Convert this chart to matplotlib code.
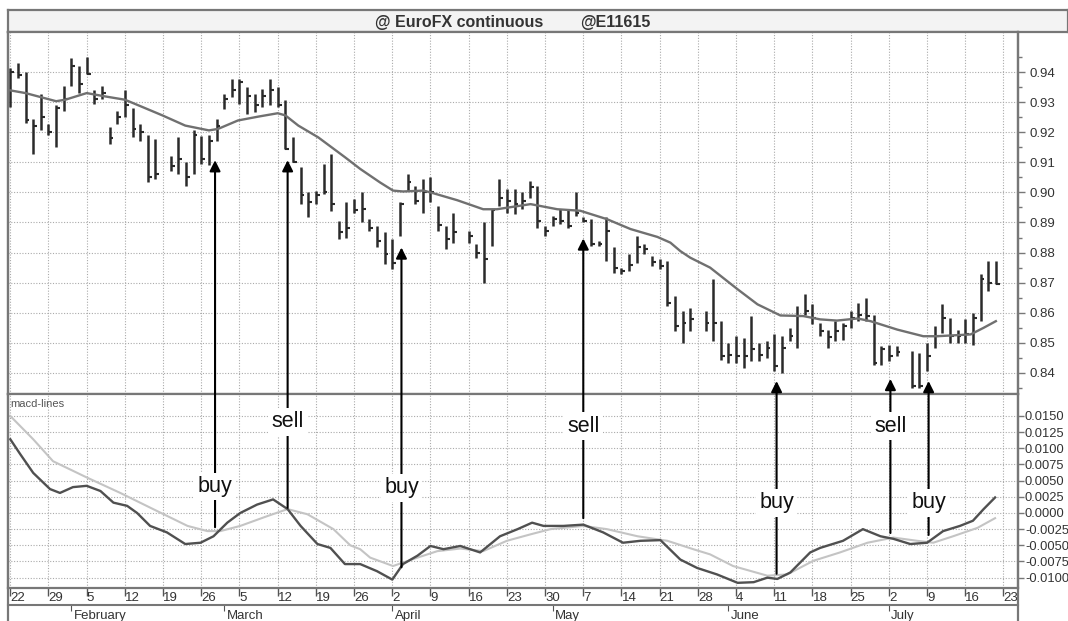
import numpy as np
import pandas as pd
import matplotlib
matplotlib.use("Agg")
import matplotlib.pyplot as plt
from matplotlib.lines import Line2D

plt.rcParams['font.family'] = ['Liberation Sans', 'DejaVu Sans']

# trading days (index = position in the business-day calendar, holidays left empty)
days = pd.bdate_range('2001-01-22', '2001-07-23')
holidays = pd.to_datetime(['2001-02-19', '2001-04-13', '2001-05-28', '2001-07-04'])
trade_days = [d for d in days[:-1] if d not in holidays]
bar_x = [days.get_loc(d) for d in trade_days]

# EuroFX daily bars: high / low / close
high = [0.9413, 0.9430, 0.9400, 0.9245, 0.9328, 0.9228, 0.9290, 0.9355, 0.9445, 0.9420,
        0.9450, 0.9339, 0.9355, 0.9217, 0.9270, 0.9339, 0.9280, 0.9228, 0.9190, 0.9178,
        0.9122, 0.9183, 0.9100, 0.9206, 0.9189, 0.9190, 0.9245, 0.9328, 0.9378,
        0.9378, 0.9350, 0.9328, 0.9345, 0.9378, 0.9350, 0.9306, 0.9183, 0.9083, 0.9000,
        0.9005, 0.9094, 0.9128, 0.8905, 0.8967, 0.8978, 0.9000, 0.8911, 0.8889, 0.8867,
        0.8844, 0.8967, 0.9061, 0.9022, 0.9044, 0.9050, 0.8956, 0.8889, 0.8933,
        0.8872, 0.8828, 0.8900, 0.8944, 0.9044, 0.9011, 0.9011, 0.9000, 0.9039, 0.9022,
        0.8889, 0.8922, 0.8944, 0.8944, 0.9000, 0.8917, 0.8911, 0.8839, 0.8917, 0.8817,
        0.8750, 0.8794, 0.8856, 0.8828, 0.8789, 0.8778, 0.8772, 0.8656, 0.8606, 0.8617,
        0.8606, 0.8711, 0.8572, 0.8500, 0.8522, 0.8517, 0.8589, 0.8500, 0.8506,
        0.8528, 0.8522, 0.8550, 0.8622, 0.8661, 0.8628, 0.8567, 0.8544, 0.8572, 0.8567,
        0.8606, 0.8633, 0.8650, 0.8594, 0.8489, 0.8494, 0.8489, 0.8472, 0.8467,
        0.8500, 0.8556, 0.8628, 0.8583, 0.8544, 0.8578, 0.8600, 0.8728, 0.8772, 0.8772]
low = [0.9283, 0.9380, 0.9230, 0.9128, 0.9206, 0.9190, 0.9150, 0.9270, 0.9355, 0.9330,
       0.9395, 0.9295, 0.9310, 0.9160, 0.9228, 0.9250, 0.9183, 0.9170, 0.9033, 0.9044,
       0.9072, 0.9060, 0.9022, 0.9060, 0.9094, 0.9090, 0.9170, 0.9278, 0.9317,
       0.9294, 0.9260, 0.9267, 0.9283, 0.9290, 0.9283, 0.9144, 0.9100, 0.8961, 0.8917,
       0.8960, 0.8994, 0.8939, 0.8844, 0.8850, 0.8933, 0.8900, 0.8872, 0.8817, 0.8761,
       0.8744, 0.8856, 0.9006, 0.8961, 0.8933, 0.8967, 0.8872, 0.8811, 0.8833,
       0.8833, 0.8783, 0.8700, 0.8822, 0.8956, 0.8933, 0.8928, 0.8944, 0.8983, 0.8883,
       0.8856, 0.8889, 0.8894, 0.8883, 0.8922, 0.8900, 0.8822, 0.8822, 0.8772, 0.8733,
       0.8728, 0.8739, 0.8767, 0.8794, 0.8756, 0.8744, 0.8622, 0.8539, 0.8500, 0.8539,
       0.8539, 0.8506, 0.8444, 0.8433, 0.8433, 0.8417, 0.8439, 0.8439, 0.8450,
       0.8406, 0.8400, 0.8506, 0.8483, 0.8594, 0.8561, 0.8522, 0.8483, 0.8506, 0.8511,
       0.8550, 0.8572, 0.8572, 0.8428, 0.8428, 0.8439, 0.8456, 0.8350, 0.8350,
       0.8406, 0.8483, 0.8533, 0.8500, 0.8500, 0.8500, 0.8494, 0.8572, 0.8672, 0.8694]
close = [0.9400, 0.9390, 0.9240, 0.9220, 0.9250, 0.9200, 0.9280, 0.9310, 0.9420, 0.9360,
         0.9395, 0.9310, 0.9330, 0.9180, 0.9250, 0.9290, 0.9210, 0.9200, 0.9050, 0.9060,
         0.9089, 0.9110, 0.9050, 0.9190, 0.9110, 0.9172, 0.9220, 0.9310, 0.9340,
         0.9367, 0.9320, 0.9290, 0.9320, 0.9340, 0.9290, 0.9144, 0.9100, 0.8990, 0.8967,
         0.8990, 0.9000, 0.8960, 0.8870, 0.8883, 0.8941, 0.8944, 0.8883, 0.8839, 0.8794,
         0.8767, 0.8960, 0.9033, 0.8972, 0.9000, 0.9000, 0.8890, 0.8844, 0.8867,
         0.8856, 0.8800, 0.8780, 0.8940, 0.8980, 0.8970, 0.8960, 0.8970, 0.9017, 0.8906,
         0.8872, 0.8911, 0.8906, 0.8889, 0.8933, 0.8906, 0.8828, 0.8830, 0.8872, 0.8750,
         0.8740, 0.8760, 0.8817, 0.8811, 0.8770, 0.8756, 0.8633, 0.8556, 0.8567, 0.8578,
         0.8567, 0.8567, 0.8456, 0.8461, 0.8456, 0.8456, 0.8478, 0.8461, 0.8483,
         0.8422, 0.8483, 0.8522, 0.8590, 0.8606, 0.8583, 0.8539, 0.8520, 0.8539, 0.8556,
         0.8583, 0.8594, 0.8589, 0.8433, 0.8478, 0.8456, 0.8470, 0.8356, 0.8356,
         0.8456, 0.8522, 0.8583, 0.8522, 0.8522, 0.8528, 0.8583, 0.8711, 0.8700, 0.8694]

# moving average (bar position, value)
ma_x = [0, 2, 6, 7.2, 10, 12.4, 15, 16.8, 19.9, 22.9, 26, 27.2, 29.8, 32.5, 35, 36, 37.7,
        40.3, 43.8, 45.8, 48.4, 50.1, 51.4, 54.1, 55.4, 58.5, 61.9, 63.7, 68.1, 71.6, 74.6,
        78.1, 81.2, 84.7, 86.4, 87.7, 89, 91.6, 95.2, 97.8, 100.8, 103.8, 106, 108.2, 110.9,
        112.6, 116.1, 119.5, 121.3, 125.7, 127.4, 129]
ma_y = [0.9339, 0.9330, 0.9303, 0.9308, 0.9330, 0.9319, 0.9308, 0.9289, 0.9256, 0.9222,
        0.9206, 0.9211, 0.9239, 0.9252, 0.9263, 0.9256, 0.9222, 0.9183, 0.9117, 0.9078,
        0.9033, 0.9006, 0.9003, 0.9006, 0.8997, 0.8974, 0.8944, 0.8944, 0.8961, 0.8944,
        0.8939, 0.8911, 0.8878, 0.8852, 0.8833, 0.8805, 0.8783, 0.8750, 0.8678, 0.8628,
        0.8591, 0.8589, 0.8578, 0.8574, 0.8581, 0.8572, 0.8544, 0.8522, 0.8522, 0.8528,
        0.8550, 0.8572]

# macd line and signal line
macd_x = [0, 1.3, 3, 5.2, 6.5, 8.2, 10, 11.8, 13.5, 15.3, 16.6, 18.3, 20.5, 22.9, 24.9,
          26.6, 28.4, 30.1, 32.3, 34.4, 36.3, 38, 40.2, 41.9, 43.8, 45.8, 48, 50, 51.4,
          53.3, 55, 56.7, 58.9, 61.5, 64.1, 66.4, 68.3, 69.8, 72.4, 75, 77.6, 80.2, 82.5,
          85.1, 87.7, 89.9, 92.5, 95.2, 97.3, 99.1, 100.4, 102.1, 104.7, 106, 109, 111.6,
          113.9, 115.6, 117.8, 120, 122.1, 124.3, 126, 127.4, 128.9]
macd_y = [0.0114, 0.0091, 0.0062, 0.0037, 0.0031, 0.0040, 0.0042, 0.0034, 0.0016, 0.0011,
          0.0000, -0.0020, -0.0030, -0.0048, -0.0046, -0.0036, -0.0015, 0.0000, 0.0013,
          0.0021, 0.0006, -0.0020, -0.0048, -0.0054, -0.0079, -0.0079, -0.0090, -0.0103,
          -0.0079, -0.0066, -0.0051, -0.0056, -0.0051, -0.0061, -0.0036, -0.0025, -0.0015,
          -0.0020, -0.0020, -0.0018, -0.0030, -0.0046, -0.0043, -0.0042, -0.0072, -0.0085,
          -0.0095, -0.0108, -0.0107, -0.0100, -0.0102, -0.0092, -0.0061, -0.0054, -0.0043,
          -0.0025, -0.0036, -0.0040, -0.0048, -0.0046, -0.0028, -0.0020, -0.0012, 0.0006,
          0.0024]
sig_x = [0, 3, 5.6, 10, 14.4, 18.7, 23.2, 25.8, 27.5, 30.1, 33.6, 36.3, 38.9, 42.3, 44.5,
         45.8, 47.1, 50.1, 53.3, 55.9, 58.9, 61.9, 65, 68.1, 70.7, 75, 78.1, 82.1, 86, 89.4,
         91.6, 94.6, 99.1, 101.7, 105.1, 108.6, 112.2, 115.6, 118.7, 120.8, 123.4, 126.6,
         128.9]
sig_y = [0.0150, 0.0114, 0.0080, 0.0055, 0.0031, 0.0006, -0.0020, -0.0028, -0.0028, -0.0020,
         -0.0005, 0.0006, -0.0002, -0.0025, -0.0050, -0.0056, -0.0069, -0.0082, -0.0069,
         -0.0059, -0.0055, -0.0059, -0.0043, -0.0033, -0.0025, -0.0020, -0.0025, -0.0036,
         -0.0043, -0.0056, -0.0064, -0.0082, -0.0097, -0.0095, -0.0074, -0.0061, -0.0046,
         -0.0038, -0.0043, -0.0046, -0.0036, -0.0023, -0.0008]

# buy / sell signals: bar position, arrow tip (price), arrow tail (macd), label height (macd)
sig_labels = ['buy', 'sell', 'buy', 'sell', 'buy', 'sell', 'buy']
sig_pos = [26.8, 36.3, 51.2, 75, 100.3, 115.2, 120.2]
sig_tip = [0.9107, 0.9107, 0.8817, 0.8847, 0.8373, 0.8380, 0.8373]
sig_tail = [-0.0022, 0.0008, -0.0084, -0.0008, -0.0094, -0.0031, -0.0034]
sig_text_y = [0.0041, 0.0141, 0.0039, 0.0134, 0.0016, 0.0134, 0.0016]

week_x = list(range(0, 131, 5))
week_lbl = [str(days[i].day) for i in week_x]
month_x = [8, 28, 50, 71, 94, 115]
month_lbl = ['February', 'March', 'April', 'May', 'June', 'July']

W, H = 1068, 621
XLIM = (-0.3, 131.9)
fig = plt.figure(figsize=(W / 100, H / 100), dpi=100)
L = 8 / W
PW = 1010 / W
ax_t = fig.add_axes([L, 1 - 32 / H, 1 - L, 22 / H])
ax_p = fig.add_axes([L, 1 - 394 / H, PW, 362 / H])
ax_m = fig.add_axes([L, 1 - 588 / H, PW, 194 / H])
ax_mon = fig.add_axes([L, 0, PW, 16 / H])

edge = '#777777'
grid_kw = dict(color='#aaaaaa', linestyle=(0, (1, 1.5)), linewidth=0.8)

# title bar
ax_t.set_facecolor('#f3f3f3')
ax_t.set_xticks([])
ax_t.set_yticks([])
for s in ax_t.spines.values():
    s.set_color(edge)
    s.set_linewidth(1.6)
ax_t.text(0.346, 0.45, '@ EuroFX continuous', transform=ax_t.transAxes, ha='left',
          va='center', fontsize=11.5, fontweight='bold', color='#333333')
ax_t.text(0.540, 0.45, '@E11615', transform=ax_t.transAxes, ha='left',
          va='center', fontsize=11.5, fontweight='bold', color='#333333')

# price panel
ax_p.vlines(bar_x, low, high, color='#2a2a2a', linewidth=1.8)
ax_p.hlines(close, np.array(bar_x), np.array(bar_x) + 0.5, color='#2a2a2a', linewidth=1.5)
ax_p.plot(ma_x, ma_y, color='#707070', linewidth=1.7)
ax_p.set_xlim(*XLIM)
ax_p.set_ylim(0.833, 0.9533)
ax_p.set_yticks(np.arange(0.84, 0.9451, 0.01))
ax_p.set_yticks(np.arange(0.835, 0.95, 0.005), minor=True)
ax_p.yaxis.tick_right()
ax_p.yaxis.set_major_formatter(plt.FormatStrFormatter('%.2f'))
ax_p.tick_params(axis='y', which='major', length=5, width=1, color=edge, labelsize=9.5,
                 labelcolor='#333333', pad=3)
ax_p.tick_params(axis='y', which='minor', length=3, width=1, color=edge)
ax_p.set_xticks(week_x)
ax_p.tick_params(axis='x', length=0, labelbottom=False)
ax_p.grid(True, **grid_kw)

# macd panel
ax_m.plot(sig_x, sig_y, color='#c4c4c4', linewidth=1.5)
ax_m.plot(macd_x, macd_y, color='#505050', linewidth=1.7)
ax_m.set_xlim(*XLIM)
ax_m.set_ylim(-0.0116, 0.0184)
ax_m.set_yticks(np.arange(-0.01, 0.01501, 0.0025))
ax_m.yaxis.tick_right()
ax_m.yaxis.set_major_formatter(plt.FormatStrFormatter('%.4f'))
ax_m.tick_params(axis='y', length=4, width=1, color=edge, labelsize=9.3,
                 labelcolor='#333333', pad=1)
ax_m.set_xticks(week_x, week_lbl)
ax_m.tick_params(axis='x', direction='out', length=6, width=1, color='#555555',
                 labelsize=9.5, labelcolor='#333333', pad=-3)
for lbl in ax_m.get_xticklabels():
    lbl.set_horizontalalignment('left')
ax_m.grid(True, **grid_kw)
ax_m.text(0.002, 0.975, 'macd-lines', transform=ax_m.transAxes, ha='left', va='top',
          fontsize=8, color='#555555')

for lab, xp, tip, tail, ty in zip(sig_labels, sig_pos, sig_tip, sig_tail, sig_text_y):
    ax_m.annotate('', xy=(xp, tip), xycoords=ax_p.transData, xytext=(xp, tail),
                  textcoords='data',
                  arrowprops=dict(arrowstyle='-|>', color='black', lw=1.5,
                                  mutation_scale=16, shrinkA=0, shrinkB=0))
    ax_m.text(xp, ty, lab, ha='center', va='center', fontsize=15.5, color='#111111',
              zorder=5, bbox=dict(facecolor='white', edgecolor='none', pad=2.5))

# month row
ax_mon.set_xlim(*XLIM)
ax_mon.set_ylim(0, 1)
ax_mon.set_yticks([])
ax_mon.set_xticks(month_x)
ax_mon.tick_params(axis='x', top=True, bottom=False, direction='in', length=4,
                   color='#555555', labelbottom=False)
for xm, name in zip(month_x, month_lbl):
    ax_mon.text(xm + 0.3, 0.3, name, ha='left', va='center', fontsize=9.5, color='#333333')
for side in ['left', 'right', 'bottom']:
    ax_mon.spines[side].set_visible(False)
ax_mon.spines['top'].set_color(edge)
ax_mon.spines['top'].set_linewidth(1.5)

for ax in (ax_p, ax_m):
    for s in ax.spines.values():
        s.set_color(edge)
        s.set_linewidth(1.6)

# frame lines running down past the panels
fig.add_artist(Line2D([L, L], [0, 1 - 32 / H], transform=fig.transFigure,
                      color=edge, linewidth=1.6))
fig.add_artist(Line2D([L + PW, L + PW], [0, 1 - 32 / H], transform=fig.transFigure,
                      color=edge, linewidth=1.6))

fig.savefig('out.png', dpi=100, facecolor='white')
